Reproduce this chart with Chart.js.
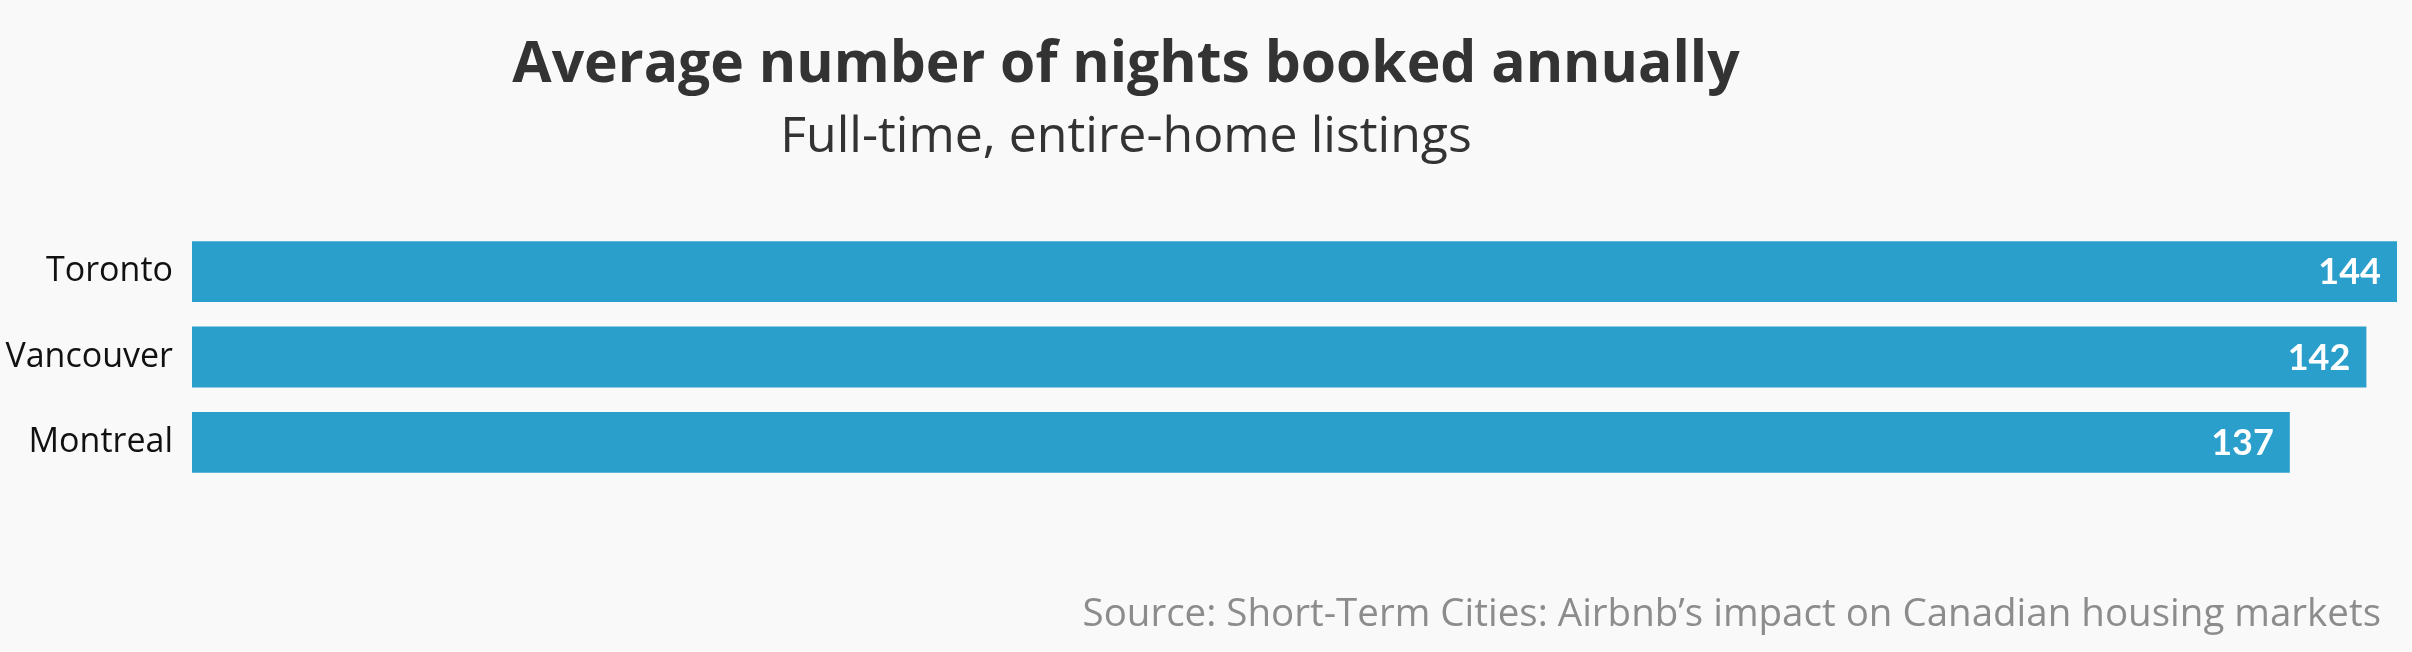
<!DOCTYPE html>
<html lang="en">
  <head>
    <meta charset="UTF-8" />
    <title>Average number of nights booked annually</title>
    <script src="https://cdn.jsdelivr.net/npm/chart.js@4.4.0/dist/chart.umd.min.js"></script>
    <style>
      html, body { margin: 0; padding: 0; background: #f9f9f9; }
      #wrap { width: 2412px; height: 652px; position: relative; }
    </style>
  </head>
  <body>
    <div id="wrap"><canvas id="chart"></canvas></div>
    <script>

    // data
    const cities = ['Toronto', 'Vancouver', 'Montreal'];
    const nights = [144, 142, 137];

    const titleText = 'Average number of nights booked annually';
    const subtitleText = 'Full-time, entire-home listings';
    const sourceText = 'Source: Short-Term Cities: Airbnb\u2019s impact on Canadian housing markets';

    // title, subtitle and source line
    const textPlugin = {
      id: 'texts',
      afterDraw(chart) {
        const ctx = chart.ctx;
        ctx.save();
        ctx.textBaseline = 'alphabetic';
        ctx.fillStyle = '#333333';
        ctx.textAlign = 'center';
        ctx.font = 'bold 57px "Open Sans"';
        ctx.fillText(titleText, 1126, 82);
        ctx.font = '50px "Open Sans"';
        ctx.fillText(subtitleText, 1126, 152);
        ctx.fillStyle = '#8c8c8c';
        ctx.textAlign = 'right';
        ctx.font = '38.5px "Open Sans"';
        ctx.fillText(sourceText, 2381, 626);
        ctx.restore();
      }
    };

    // white value labels inside the bar ends
    const valuePlugin = {
      id: 'values',
      afterDatasetsDraw(chart) {
        const ctx = chart.ctx;
        const meta = chart.getDatasetMeta(0);
        ctx.save();
        ctx.fillStyle = '#ffffff';
        ctx.font = 'bold 36px Lato';
        ctx.textAlign = 'right';
        ctx.textBaseline = 'middle';
        meta.data.forEach((bar, i) => {
          ctx.fillText(String(nights[i]), bar.x - 16, bar.y + 1);
        });
        ctx.restore();
      }
    };

    const ctx = document.getElementById('chart').getContext('2d');
    const myChart = new Chart(ctx, {
      type: 'bar',
      data: {
        labels: cities,
        datasets: [{
          data: nights,
          backgroundColor: '#2a9fcc',
          borderWidth: 0,
          barPercentage: 0.713,
          categoryPercentage: 1
        }]
      },
      options: {
        indexAxis: 'y',
        responsive: true,
        maintainAspectRatio: false,
        animation: false,
        layout: { padding: { top: 229, bottom: 167, left: 0, right: 15 } },
        plugins: {
          legend: { display: false },
          tooltip: { enabled: false }
        },
        scales: {
          x: {
            display: false,
            min: 0,
            max: 144
          },
          y: {
            grid: { display: false },
            border: { display: false },
            ticks: {
              color: '#111111',
              font: { family: '"Open Sans"', size: 34 },
              padding: 11
            },
            afterFit(scale) { scale.width = 192; }
          }
        }
      },
      plugins: [textPlugin, valuePlugin]
    });

    </script>
  </body>
</html>
